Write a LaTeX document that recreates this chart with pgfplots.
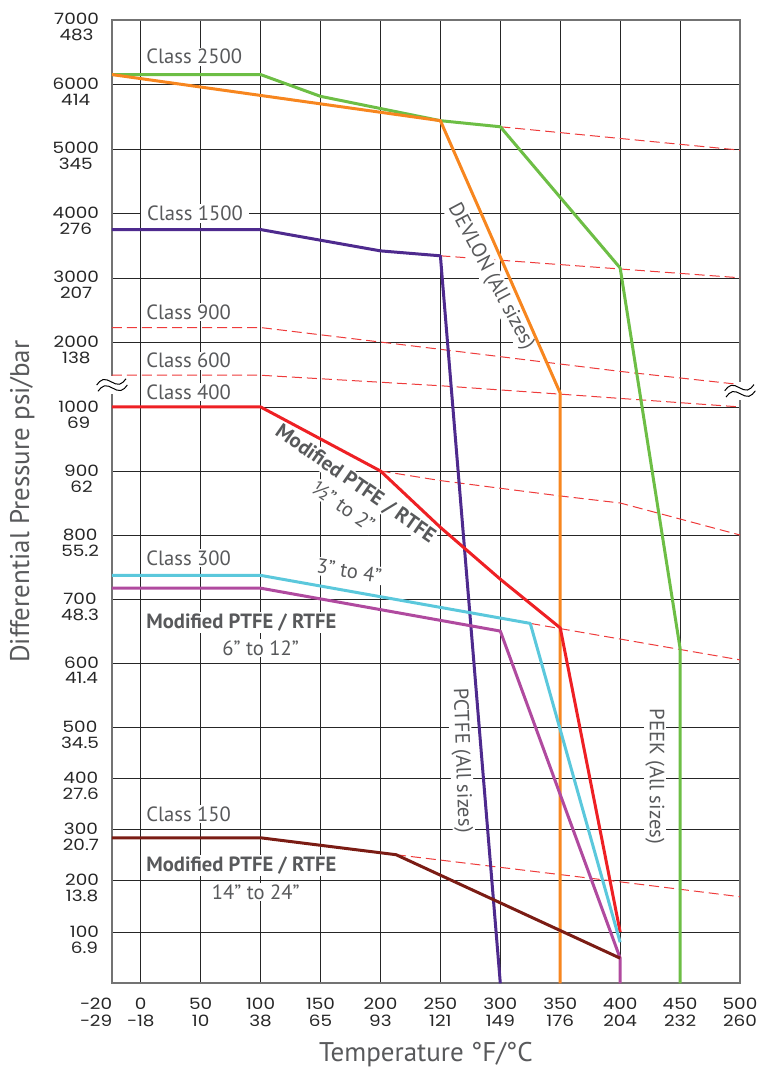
\documentclass[border=0pt]{standalone}
\usepackage{pgfplots}
\pgfplotsset{compat=1.18}
\usepackage{fontspec}
\setmainfont{PT Sans}
\newfontfamily\tickfont[FakeStretch=1.18]{Poppins}
\definecolor{cgreen}{HTML}{6DBE45}
\definecolor{corange}{HTML}{F7861F}
\definecolor{cpurple}{HTML}{4E2A8E}
\definecolor{cred}{HTML}{EE2024}
\definecolor{ccyan}{HTML}{5BC8DC}
\definecolor{cmagenta}{HTML}{B04A9F}
\definecolor{cbrown}{HTML}{7B1C14}
\definecolor{cdash}{HTML}{EE3B3B}
\definecolor{labgray}{HTML}{58595B}
\newcommand{\tl}[2]{\begin{tabular}[t]{@{}c@{}}#1\\#2\end{tabular}}
\tikzset{
  dashred/.style={cdash, line width=0.5pt, dash pattern=on 5pt off 2.5pt},
  sol/.style={line width=1.5pt, line join=round},
  lab/.style={font=\fontsize{10.3}{12}\selectfont, text=labgray, fill=white, inner sep=0.8pt},
  blab/.style={font=\bfseries\fontsize{10.3}{12}\selectfont, text=labgray, fill=white, inner sep=0.8pt},
}
\begin{document}
\begin{tikzpicture}
\begin{axis}[
  scale only axis, width=314pt, height=481.65pt,
  xmin=-24, xmax=500, ymin=0, ymax=7000,
  y coord trafo/.code={\pgfmathparse{#1<=500 ? 0.008*#1 : (#1<=1000 ? 4+0.01*(#1-500) : 9+0.001*(#1-1000))}},
  xtick={-24,0,50,100,150,200,250,300,350,400,450,500},
  xticklabels={{\hspace*{-16pt}\tl{−20}{−29}},{\tl{0}{−18}},{\tl{50}{10}},{\tl{100}{38}},{\tl{150}{65}},{\tl{200}{93}},{\tl{250}{121}},{\tl{300}{149}},{\tl{350}{176}},{\tl{400}{204}},{\tl{450}{232}},{\tl{500}{260}}},
  ytick={100,200,300,400,500,600,700,800,900,1000,2000,3000,4000,5000,6000,7000},
  yticklabels={{\tl{100}{6.9}},{\tl{200}{13.8}},{\tl{300}{20.7}},{\tl{400}{27.6}},{\tl{500}{34.5}},{\tl{600}{41.4}},{\tl{700}{48.3}},{\tl{800}{55.2}},{\tl{900}{62}},{\tl{1000}{69}},{\tl{2000}{138}},{\tl{3000}{207}},{\tl{4000}{276}},{\tl{5000}{345}},{\tl{6000}{414}},{\tl{7000}{483}}},
  grid=major, major grid style={black!85, line width=0.45pt},
  major tick length=0pt,
  axis line style={black!55, line width=0.9pt},
  yticklabel style={anchor=mid east, xshift=-3pt, text=black!85, font=\tickfont\fontsize{7.8}{7.35}\selectfont},
  xticklabel style={anchor=north, yshift=-3.5pt, text=black!85, font=\tickfont\fontsize{7.8}{8.5}\selectfont},
  xlabel={Temperature °F/°C},
  ylabel={Differential Pressure psi/bar},
  every axis x label/.style={at={(axis description cs:0.5,-0.0814)}, anchor=base, font=\fontsize{13.5}{15}\selectfont, text=labgray},
  every axis y label/.style={at={(axis description cs:-0.143,0.5)}, rotate=90, anchor=center, font=\fontsize{13.5}{15}\selectfont, text=labgray},
]
% dashed extensions
\addplot[dashred] coordinates {(300,5375)(500,5010)};
\addplot[dashred] coordinates {(250,3360)(500,3017)};
\addplot[dashred] coordinates {(-24,2240)(100,2240)(250,1900)(400,1555)(500,1350)};
\addplot[dashred] coordinates {(-24,1495)(100,1495)(250,1331)(350,1200)(500,1000)};
\addplot[dashred] coordinates {(200,900)(250,885)(350,861)(400,850)(500,800)};
\addplot[dashred] coordinates {(325,662)(500,605)};
\addplot[dashred] coordinates {(213,251)(400,198)(500,169)};
% labels
\node[lab, anchor=west] at (axis cs:3,6430) {Class 2500};
\node[lab, anchor=west, inner xsep=3pt] at (axis cs:0,4000) {Class 1500};
\node[lab, anchor=west] at (axis cs:3,2474) {Class 900};
\node[lab, anchor=west] at (axis cs:3,1717) {Class 600};
\node[lab, anchor=west] at (axis cs:3,1226) {Class 400};
\node[lab, anchor=west] at (axis cs:3,764) {Class 300};
\node[lab, anchor=west] at (axis cs:3,330) {Class 150};
\node[blab, anchor=west] at (axis cs:3,663) {Modified PTFE / RTFE};
\node[lab] at (axis cs:100,623) {6” to 12”};
\node[blab, anchor=west] at (axis cs:3,230) {Modified PTFE / RTFE};
\node[lab] at (axis cs:96,178) {14” to 24”};
\node[lab, rotate=-9] at (axis cs:174,744) {3” to 4”};
\node[blab, rotate=-35] at (axis cs:179,880) {Modified PTFE / RTFE};
\node[lab, rotate=-35] at (axis cs:169,845) {½” to 2”};
\node[lab, rotate=-62] at (axis cs:292,3020) {DEVLON (All sizes)};
\node[lab, rotate=-88] at (axis cs:267.5,435) {PCTFE (All sizes)};
\node[lab, rotate=-90] at (axis cs:429,404) {PEEK (All sizes)};
% solid rating curves
\addplot[sol, cgreen] coordinates {(-24,6190)(100,6190)(150,5850)(250,5470)(300,5375)(400,3170)(450,623)(450,0)};
\addplot[sol, corange] coordinates {(-24,6190)(250,5470)(350,1215)(350,0)};
\addplot[sol, cpurple] coordinates {(-24,3770)(100,3770)(200,3437)(250,3360)(300,0)};
\addplot[sol, cred] coordinates {(-24,1000)(100,1000)(200,900)(250,812)(300,731)(350,655)(400,100)};
\addplot[sol, ccyan] coordinates {(-24,737)(100,737)(325,662)(400,80)};
\addplot[sol, cmagenta] coordinates {(-24,717)(100,717)(300,650)(400,49)(400,0)};
\addplot[sol, cbrown] coordinates {(-24,284)(100,284)(213,251)(400,49)};
\coordinate (bl) at (axis cs:-24,1340);
\coordinate (br) at (axis cs:500,1250);
\end{axis}
\foreach \p in {bl,br}{
  \fill[white] ([xshift=-1.5pt,yshift=-4.5pt]\p) rectangle ([xshift=1.5pt,yshift=4.5pt]\p);
  \draw[black, line width=0.5pt, shift={(\p)}, rotate=12, yshift=1.6pt] (-7.5pt,0pt) sin (-3.75pt,2pt) cos (0pt,0pt) sin (3.75pt,-2pt) cos (7.5pt,0pt);
  \draw[black, line width=0.5pt, shift={(\p)}, rotate=12, yshift=-1.6pt] (-7.5pt,0pt) sin (-3.75pt,2pt) cos (0pt,0pt) sin (3.75pt,-2pt) cos (7.5pt,0pt);
}
\pgfresetboundingbox
\path[use as bounding box] (-56pt,-42.85pt) rectangle (322pt,491.65pt);
\end{tikzpicture}
\end{document}
